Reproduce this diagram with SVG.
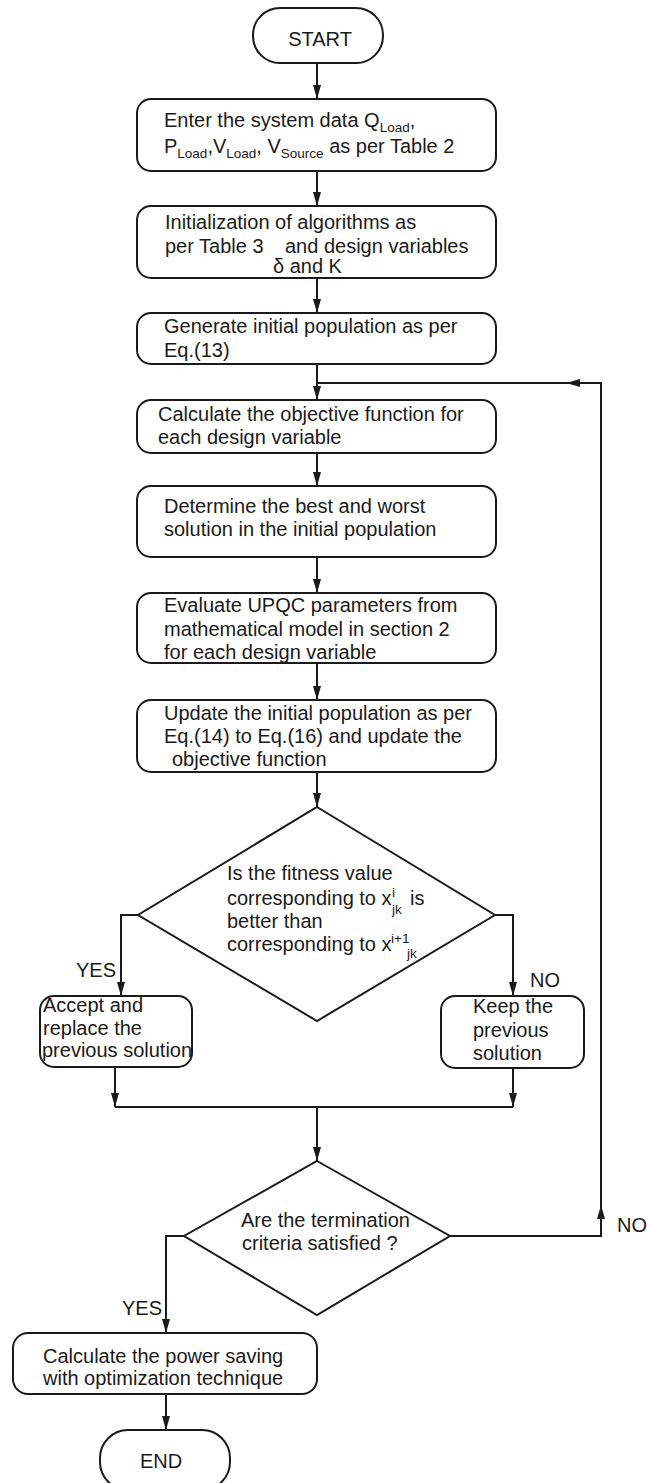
<svg xmlns="http://www.w3.org/2000/svg" width="647" height="1483" viewBox="0 0 647 1483">
<style>
.s{fill:#fff;stroke:#1a1a1a;stroke-width:2}
.c{fill:none;stroke:#1a1a1a;stroke-width:2}
text{font-family:"Liberation Sans",Arial,sans-serif;font-size:20px;fill:#1a1a1a}
.sm{font-size:13.5px}
</style>
<defs>
<marker id="ah" markerUnits="userSpaceOnUse" markerWidth="16" markerHeight="10" refX="14" refY="4" orient="auto">
<path d="M0,0 L14,4 L0,8 z" fill="#1a1a1a"/>
</marker>
</defs>
<g id="connectors">
<path class="c" d="M317,63 V99" marker-end="url(#ah)"/>
<path class="c" d="M317,171 V206" marker-end="url(#ah)"/>
<path class="c" d="M317,278 V313" marker-end="url(#ah)"/>
<path class="c" d="M317,364 V400" marker-end="url(#ah)"/>
<path class="c" d="M317,453 V486" marker-end="url(#ah)"/>
<path class="c" d="M317,557 V593" marker-end="url(#ah)"/>
<path class="c" d="M317,663 V700" marker-end="url(#ah)"/>
<path class="c" d="M317,772 V807" marker-end="url(#ah)"/>
<path class="c" d="M138,915 H121 V996" marker-end="url(#ah)"/>
<path class="c" d="M495,915 H513 V996" marker-end="url(#ah)"/>
<path class="c" d="M115,1067 V1107" marker-end="url(#ah)"/>
<path class="c" d="M513,1068 V1107" marker-end="url(#ah)"/>
<path class="c" d="M115,1107 H513"/>
<path class="c" d="M317,1107 V1161" marker-end="url(#ah)"/>
<path class="c" d="M184,1236 H166 V1333" marker-end="url(#ah)"/>
<path class="c" d="M166,1394 V1430" marker-end="url(#ah)"/>
<path class="c" d="M450,1236 H601 V1205" marker-end="url(#ah)"/>
<path class="c" d="M601,1206 V383 H566" marker-end="url(#ah)"/>
<path class="c" d="M567,383 H317"/>
<text x="530" y="987">NO</text>
<text x="116" y="977" text-anchor="end">YES</text>
<text x="617" y="1232">NO</text>
<text x="122" y="1315">YES</text>
</g>
<g id="start">
<rect class="s" x="253" y="8" width="130" height="55" rx="27"/>
<text x="320" y="46" text-anchor="middle">START</text>
</g>
<g id="n1">
<rect class="s" x="137" y="99" width="359" height="72" rx="14"/>
<text x="164" y="127">Enter the system data Q<tspan class="sm" dy="5">Load</tspan><tspan dy="-5">,</tspan></text>
<text x="164" y="153">P<tspan class="sm" dy="5">Load</tspan><tspan dy="-5">,V</tspan><tspan class="sm" dy="5">Load</tspan><tspan dy="-5">, V</tspan><tspan class="sm" dy="5">Source</tspan><tspan dy="-5"> as per Table 2</tspan></text>
</g>
<g id="n2">
<rect class="s" x="137" y="206" width="359" height="72" rx="14"/>
<text x="165" y="229">Initialization of algorithms as</text>
<text x="165" y="253">per Table 3</text>
<text x="285" y="253">and design variables</text>
<text x="273" y="273">δ and K</text>
</g>
<g id="n3">
<rect class="s" x="137" y="313" width="359" height="51" rx="14"/>
<text x="164" y="333">Generate initial population as per</text>
<text x="164" y="357">Eq.(13)</text>
</g>
<g id="n4">
<rect class="s" x="137" y="400" width="359" height="53" rx="14"/>
<text x="158" y="421">Calculate the objective function for</text>
<text x="158" y="444">each design variable</text>
</g>
<g id="n5">
<rect class="s" x="137" y="486" width="359" height="71" rx="14"/>
<text x="164" y="513">Determine the best and worst</text>
<text x="164" y="536">solution in the initial population</text>
</g>
<g id="n6">
<rect class="s" x="137" y="593" width="359" height="70" rx="14"/>
<text x="164" y="612">Evaluate UPQC parameters from</text>
<text x="164" y="636">mathematical model in section 2</text>
<text x="164" y="659">for each design variable</text>
</g>
<g id="n7">
<rect class="s" x="137" y="700" width="359" height="72" rx="14"/>
<text x="164" y="720">Update the initial population as per</text>
<text x="164" y="743">Eq.(14) to Eq.(16) and update the</text>
<text x="172" y="766">objective function</text>
</g>
<g id="d1">
<polygon class="s" points="317,807 495,915 317,1021 138,915"/>
<text x="227" y="880">Is the fitness value</text>
<text x="227" y="905">corresponding to x</text>
<text class="sm" x="392" y="897">i</text>
<text class="sm" x="392" y="914">jk</text>
<text x="410" y="905">is</text>
<text x="227" y="928">better than</text>
<text x="227" y="951">corresponding to x</text>
<text class="sm" x="391" y="943">i+1</text>
<text class="sm" x="407" y="958">jk</text>
</g>
<g id="accept">
<rect class="s" x="40" y="996" width="152" height="71" rx="14"/>
<text x="43" y="1012">Accept and</text>
<text x="43" y="1035">replace the</text>
<text x="42" y="1057">previous solution</text>
</g>
<g id="keep">
<rect class="s" x="441" y="996" width="143" height="72" rx="14"/>
<text x="473" y="1013">Keep the</text>
<text x="473" y="1037">previous</text>
<text x="473" y="1060">solution</text>
</g>
<g id="d2">
<polygon class="s" points="317,1161 450,1236 317,1315 184,1236"/>
<text x="241" y="1227">Are the termination</text>
<text x="242" y="1250">criteria satisfied ?</text>
</g>
<g id="final">
<rect class="s" x="13" y="1333" width="304" height="61" rx="15"/>
<text x="43" y="1363">Calculate the power saving</text>
<text x="43" y="1385">with optimization technique</text>
</g>
<g id="end">
<rect class="s" x="100" y="1430" width="130" height="60" rx="28"/>
<text x="161" y="1468" text-anchor="middle">END</text>
</g>
</svg>
